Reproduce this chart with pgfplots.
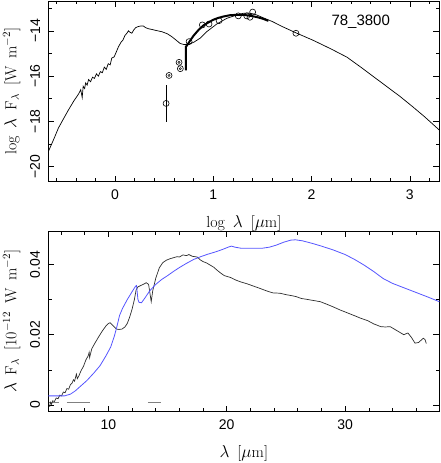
\documentclass[border=0pt]{standalone}
\usepackage{fontspec}
\usepackage{pgfplots}
\pgfplotsset{compat=1.18}
\newfontfamily\sans{Liberation Sans}
\definecolor{modelblue}{RGB}{85,85,255}
\definecolor{specgray}{RGB}{45,45,45}

\pgfplotsset{
  sedframe/.style={
    scale only axis, width=391pt, height=180.7pt,
    anchor=south west, clip=true,
    axis line style={line width=0.7pt},
    every tick/.style={line width=0.6pt, black},
    major tick length=6pt, minor tick length=3.5pt,
    tick align=inside, xtick pos=both, ytick pos=both,
    ticklabel style={font=\sans\fontsize{14}{16}\selectfont},
    xticklabel style={anchor=center, yshift=-13.3pt},
    yticklabel style={rotate=90, anchor=south, inner ysep=8pt},
    label style={font=\fontsize{16}{19}\selectfont},
    xlabel style={at={(axis description cs:0.5,-0.234)}, anchor=center},
    ylabel style={at={(axis description cs:-0.0936,0.5)}, anchor=center},
  },
}

\begin{document}
\begin{tikzpicture}
\path[use as bounding box] (0,0) rectangle (441pt,-463pt);

% upper panel: SED in log-log
\begin{axis}[sedframe, at={(48.3pt,-181.7pt)},
    xmin=-0.68, xmax=3.3, ymin=-20.68, ymax=-12.67,
    xtick={0,1,2,3}, xticklabels={0,1,2,3},
    minor xtick={-0.6,-0.4,-0.2,0.2,0.4,0.6,0.8,1.2,1.4,1.6,1.8,2.2,2.4,2.6,2.8,3.2},
    ytick={-20,-18,-16,-14}, yticklabels={−20,−18,−16,−14},
    minor ytick={-19,-17,-15,-13},
    xlabel={log\enspace$\lambda$\enspace[$\mu$m]},
    ylabel={log\enspace$\lambda$\enspace F$_\lambda$\enspace[W\enspace m$^{-2}$]},
]
% model
\addplot[black, line width=0.7pt] coordinates {
 (-0.68,-19.35) (-0.62,-18.75) (-0.577,-18.3) (-0.52,-17.85) (-0.475,-17.5)
 (-0.42,-17.1) (-0.373,-16.8) (-0.35,-16.6) (-0.335,-16.95) (-0.325,-16.45)
 (-0.31,-16.55) (-0.30,-16.3) (-0.285,-16.4) (-0.27,-16.15) (-0.25,-16.25)
 (-0.23,-16.05) (-0.21,-16.1) (-0.19,-15.9) (-0.17,-16.0) (-0.15,-15.8)
 (-0.13,-15.85) (-0.11,-15.6) (-0.09,-15.7) (-0.07,-15.45) (-0.05,-15.5)
 (-0.034,-15.2) (-0.01,-15.15) (0.01,-14.95) (0.034,-14.7) (0.06,-14.5)
 (0.08,-14.4) (0.10,-14.2) (0.12,-14.1) (0.136,-13.99) (0.15,-14.05)
 (0.17,-14.1) (0.19,-13.95) (0.21,-13.85) (0.237,-13.8) (0.26,-13.78)
 (0.288,-13.78) (0.31,-13.85) (0.34,-13.9) (0.373,-13.93) (0.42,-13.98)
 (0.475,-14.03) (0.53,-14.12) (0.577,-14.25) (0.62,-14.4) (0.661,-14.55)
 (0.70,-14.6) (0.74,-14.6) (0.8,-14.5) (0.865,-14.32) (0.933,-14.03)
 (1.035,-13.69) (1.136,-13.44) (1.24,-13.29) (1.3,-13.22) (1.35,-13.2)
 (1.42,-13.25) (1.5,-13.4) (1.6,-13.58) (1.7,-13.8) (1.84,-14.08)
 (2.02,-14.42) (2.2,-14.8) (2.36,-15.16) (2.5,-15.6) (2.7,-16.25)
 (2.9,-16.9) (3.03,-17.36) (3.15,-17.8) (3.3,-18.39)
};
% spectrum (thick)
\addplot[black, line width=2pt] coordinates {
 (0.72,-15.75) (0.72,-14.7) (0.73,-14.65) (0.76,-14.45) (0.8,-14.2)
 (0.85,-13.95) (0.9,-13.75) (0.95,-13.62) (1.0,-13.5) (1.05,-13.42)
 (1.1,-13.36) (1.17,-13.3) (1.25,-13.28) (1.3,-13.28) (1.37,-13.32)
 (1.44,-13.38) (1.5,-13.45) (1.56,-13.55)
};
% photometry
\addplot[black, only marks, mark=o, mark size=3pt, line width=0.6pt,
  error bars/.cd, y dir=both, y explicit, error mark=none,
  error bar style={line width=0.7pt}] coordinates {
 (0.519,-17.21) +- (0,0.81)
};
\addplot[black, only marks, mark=o, mark size=3pt, line width=0.6pt] coordinates {
 (0.549,-15.97) (0.651,-15.39) (0.664,-15.67) (0.753,-14.47) (0.888,-13.73)
 (0.956,-13.69) (1.058,-13.54) (1.254,-13.33) (1.34,-13.33) (1.373,-13.39)
 (1.40,-13.16) (1.841,-14.1)
};
\addplot[black, only marks, mark=o, mark size=1.1pt, line width=0.5pt] coordinates {
 (0.549,-15.97) (0.651,-15.39) (0.664,-15.67)
};
\node[font=\sans\fontsize{15}{18}\selectfont] at (axis cs:2.5,-13.6) {78\_3800};
\end{axis}

% lower panel: linear mid-IR spectrum
\begin{axis}[sedframe, at={(48.3pt,-411.7pt)},
    xmin=4.93, xmax=37.95, ymin=-0.0019, ymax=0.0495,
    scaled x ticks=false, scaled y ticks=false,
    xtick={10,20,30}, xticklabels={10,20,30},
    minor xtick={6,8,12,14,16,18,22,24,26,28,32,34,36},
    ytick={0,0.02,0.04}, yticklabels={0,0.02,0.04},
    minor ytick={0.01,0.03},
    xlabel={$\lambda$\enspace[$\mu$m]},
    ylabel={$\lambda$\enspace F$_\lambda$\enspace[10$^{-12}$\enspace W\enspace m$^{-2}$]},
]
% photometric upper limits near zero
\addplot[gray, line width=0.9pt] coordinates {(4.95,0.0007) (5.8,0.0007)};
\addplot[gray, line width=0.9pt] coordinates {(6.48,0.0007) (8.45,0.0007)};
\addplot[gray, line width=0.9pt] coordinates {(13.33,0.0007) (14.45,0.0007)};
% observed spectrum
\addplot[specgray, line width=0.7pt] coordinates {
 (5.05,-0.0005) (5.1,0.0008) (5.2,0.0002) (5.3,0.0012) (5.45,0.0010)
 (5.6,0.0020) (5.75,0.0018) (5.9,0.0028) (6.05,0.0026) (6.2,0.0037)
 (6.35,0.0035) (6.5,0.0047) (6.65,0.0045) (6.8,0.0058) (6.95,0.0063)
 (7.05,0.0072) (7.15,0.0068) (7.3,0.0088) (7.38,0.0075) (7.5,0.0082)
 (7.7,0.0098) (7.9,0.0110) (8.1,0.0128) (8.3,0.0140) (8.38,0.0150)
 (8.42,0.0135) (8.6,0.0160) (8.9,0.0178) (9.2,0.0195) (9.5,0.0211)
 (9.8,0.0225) (10.0,0.0232) (10.15,0.0234) (10.3,0.0229) (10.5,0.0222)
 (10.7,0.0216) (10.9,0.0215) (11.15,0.0216) (11.4,0.0222) (11.6,0.0232)
 (11.8,0.0250) (12.0,0.0272) (12.2,0.0300) (12.35,0.0328) (12.5,0.0336)
 (12.8,0.0341) (13.0,0.0344) (13.2,0.0348) (13.4,0.0343) (13.55,0.0310)
 (13.62,0.0294) (13.75,0.0325) (14.0,0.0360) (14.3,0.0390) (14.6,0.0405)
 (14.9,0.0412) (15.2,0.0416) (15.5,0.0419) (15.8,0.0422) (16.0,0.0421)
 (16.3,0.0427) (16.6,0.0425) (16.8,0.0428) (17.1,0.0423) (17.5,0.0421)
 (17.8,0.0412) (18.0,0.0408) (18.3,0.0404) (18.6,0.0398) (18.9,0.0392)
 (19.2,0.0383) (19.5,0.0375) (19.8,0.0368) (20.3,0.0363) (20.8,0.0355)
 (21.2,0.0350) (21.7,0.0345) (22.2,0.0339) (22.7,0.0333) (23.1,0.0328)
 (23.5,0.0323) (23.9,0.0319) (24.5,0.0318) (25.0,0.0314) (25.5,0.0311)
 (25.9,0.0308) (26.3,0.0303) (26.7,0.0301) (27.2,0.0298) (27.9,0.0294)
 (28.5,0.0286) (29.0,0.0279) (29.6,0.0270) (30.2,0.0262) (30.8,0.0254)
 (31.3,0.0247) (31.9,0.0240) (32.4,0.0231) (33.0,0.0223) (33.4,0.0222)
 (33.8,0.0223) (34.2,0.0215) (34.6,0.0207) (34.95,0.0200) (35.3,0.0205)
 (35.6,0.0192) (35.9,0.0176) (36.2,0.0178) (36.6,0.0190) (36.75,0.0186)
 (36.85,0.0175)
};
% model
\addplot[modelblue, line width=0.8pt] coordinates {
 (4.93,0.0026) (5.5,0.0026) (6.3,0.0026) (6.8,0.0031) (7.2,0.0040)
 (7.7,0.0055) (8.2,0.0070) (8.8,0.0092) (9.3,0.0112) (9.8,0.0140)
 (10.2,0.0165) (10.5,0.0195) (10.7,0.0220) (10.95,0.0255) (11.2,0.0275)
 (11.6,0.0300) (12.0,0.0322) (12.3,0.0338) (12.38,0.0340) (12.5,0.0300)
 (12.6,0.0292) (12.8,0.0291) (13.1,0.0305) (13.5,0.0325) (14.0,0.0343)
 (14.5,0.0357) (15.0,0.0368) (15.5,0.0380) (16.0,0.0391) (16.6,0.0403)
 (17.2,0.0414) (17.8,0.0422) (18.4,0.0429) (19.0,0.0435) (19.6,0.0442)
 (20.2,0.0450) (20.4,0.0452) (20.7,0.0449) (21.2,0.0446) (22.0,0.0446)
 (23.0,0.0446) (23.6,0.0449) (24.2,0.0455) (24.8,0.0463) (25.4,0.0469)
 (25.8,0.0470) (26.4,0.0467) (27.2,0.0460) (28.0,0.0452) (29.0,0.0441)
 (30.0,0.0428) (30.8,0.0414) (31.6,0.0398) (32.4,0.0380) (33.2,0.0360)
 (34.0,0.0346) (35.0,0.0333) (36.0,0.0320) (37.0,0.0307) (37.95,0.0294)
};
\end{axis}
\end{tikzpicture}
\end{document}
